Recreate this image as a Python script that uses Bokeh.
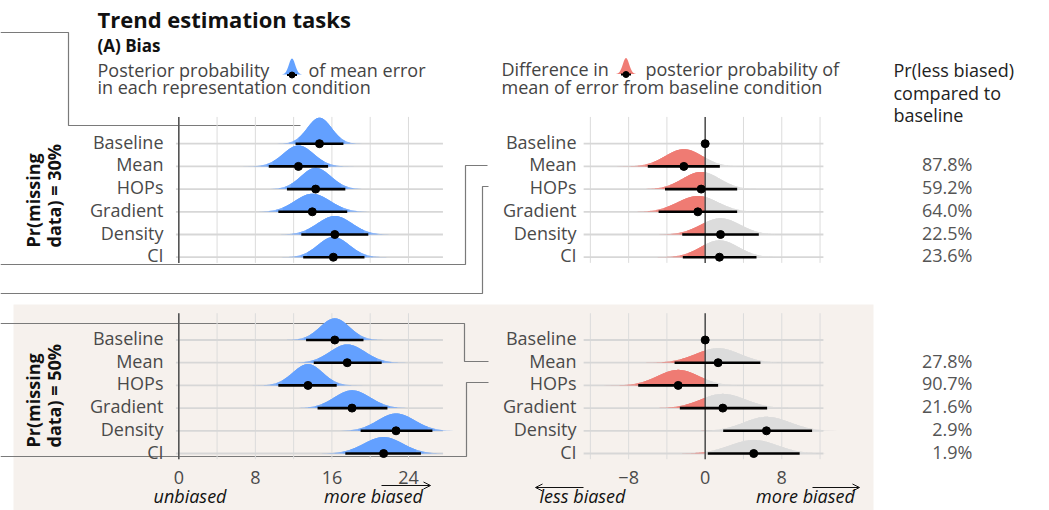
import numpy as np
from bokeh.plotting import figure
from bokeh.models import Range1d, Arrow, OpenHead
from bokeh.core.properties import value
from bokeh.embed import file_html
from bokeh.resources import INLINE

# ---------------- data ----------------
categories = ["Baseline", "Mean", "HOPs", "Gradient", "Density", "CI"]

# posterior of mean error: point estimate and 95% interval (Pr(missing)=30%)
err30_point = [14.7, 12.5, 14.3, 13.95, 16.3, 16.15]
err30_lo = [12.2, 9.4, 11.3, 10.4, 12.8, 13.0]
err30_hi = [17.2, 15.6, 17.4, 17.6, 19.8, 19.4]

# Pr(missing)=50%
err50_point = [16.3, 17.6, 13.5, 18.1, 22.7, 21.4]
err50_lo = [13.3, 14.1, 10.4, 14.5, 19.0, 17.4]
err50_hi = [19.3, 21.2, 16.5, 21.8, 26.5, 25.3]

# difference from baseline
diff30_point = [0.0, -2.23, -0.42, -0.77, 1.6, 1.49]
diff30_lo = [0.0, -6.0, -4.2, -4.87, -2.4, -2.34]
diff30_hi = [0.0, 1.53, 3.34, 3.34, 5.6, 5.36]

diff50_point = [0.0, 1.35, -2.82, 1.84, 6.4, 5.07]
diff50_lo = [0.0, -3.2, -7.0, -2.65, 1.88, 0.27]
diff50_hi = [0.0, 5.77, 1.35, 6.47, 11.17, 9.87]

pr_less30 = ["", "87.8%", "59.2%", "64.0%", "22.5%", "23.6%"]
pr_less50 = ["", "27.8%", "90.7%", "21.6%", "2.9%", "1.9%"]

err_ticks = [0, 8, 16, 24]
err_tick_labels = ["0", "8", "16", "24"]
diff_ticks = [-8, 0, 8]
diff_tick_labels = ["\u22128", "0", "8"]
err_grid = [0, 4, 8, 12, 16, 20, 24]
diff_grid = [-12, -8, -4, 0, 4, 8, 12]

# ---------------- layout ----------------
W, H = 1049, 510
OX, OY = 0, 0
PXU = 9.57      # px per data unit (x)
ROW = 22.7      # px per category row
ERR_ZERO, DIFF_ZERO = 178.3, 704.7
BASE30, BASE50 = 256.7, 453.0
err_lim = (-0.3, 27.6)
diff_lim = (-12.7, 12.35)
row_lim = (-0.25, 6.18)
rows = [5, 4, 3, 2, 1, 0]
K = 83.0 / ROW   # density height scale (rows per pdf unit)

FONT = value("Open Sans")
BLUE, RED, GREY = "#64A2FF", "#F07C75", "#DEDEDE"
TXT = "#4a4a4a"
FS = value("18px")

p = figure(width=W, height=H, output_backend="svg", toolbar_location=None,
           x_range=Range1d(OX, OX + W), y_range=Range1d(OY + H, OY),
           x_axis_location=None, y_axis_location=None, min_border=0)
p.grid.visible = False
p.outline_line_color = None
p.background_fill_color = "white"
p.border_fill_color = "white"

p.extra_x_ranges["err"] = Range1d((OX - ERR_ZERO) / PXU, (OX + W - ERR_ZERO) / PXU)
p.extra_x_ranges["diff"] = Range1d((OX - DIFF_ZERO) / PXU, (OX + W - DIFF_ZERO) / PXU)
p.extra_y_ranges["r30"] = Range1d((BASE30 - (OY + H)) / ROW, (BASE30 - OY) / ROW)
p.extra_y_ranges["r50"] = Range1d((BASE50 - (OY + H)) / ROW, (BASE50 - OY) / ROW)

# background of the 50% row
p.quad(left=13, right=873, top=304, bottom=512, fill_color="#F6F1ED", line_color=None)

# connector brackets
CON = dict(line_color="#7a7a7a", line_width=1.2)
p.line([0, 68, 68, 300], [32, 32, 125, 125], **CON)
p.line([0, 465, 465, 487], [264, 264, 165, 165], **CON)
p.line([0, 482, 482, 488], [293, 293, 186, 186], **CON)
p.line([0, 464, 464, 488], [323, 323, 361, 361], **CON)
p.line([0, 466, 466, 488], [456, 456, 382, 382], **CON)

# fade layers for the slab tails
edges = [1.7, 2.1, 2.5, 2.9, 3.3, 3.7, 4.3]
targets = [0.88, 0.72, 0.55, 0.40, 0.25, 0.11]
layer_alpha = [0.0] * len(targets)
layer_alpha[-1] = targets[-1]
for j in range(len(targets) - 2, -1, -1):
    layer_alpha[j] = 1 - (1 - targets[j]) / (1 - targets[j + 1])
layers = [(edges[0], 1.0)] + [(edges[j + 1], layer_alpha[j]) for j in range(len(targets))]


def slab(m, lo, hi, row, xmin, xmax):
    sl = (m - lo) / 1.96
    sr = (hi - m) / 1.96
    A = 2 / (np.sqrt(2 * np.pi) * (sl + sr))
    out = []
    for zc, a in layers:
        x0 = max(m - zc * sl, xmin)
        x1 = min(m + zc * sr, xmax)
        if x1 <= x0:
            continue
        xs = np.linspace(x0, x1, 70)
        s = np.where(xs < m, sl, sr)
        ys = row + K * A * np.exp(-0.5 * ((xs - m) / s) ** 2)
        out.append((list(np.r_[x0, xs, x1]), list(np.r_[row, ys, row]), a))
    return out


def panel(xr, yr, lim, grid, pts, los, his, split):
    p.segment(x0=grid, y0=[row_lim[0]] * len(grid), x1=grid, y1=[row_lim[1]] * len(grid),
              x_range_name=xr, y_range_name=yr, line_color="#DCDCDC", line_width=1)
    p.segment(x0=[lim[0]] * 6, y0=rows, x1=[lim[1]] * 6, y1=rows,
              x_range_name=xr, y_range_name=yr, line_color="#D7D7D7", line_width=1.8)
    if not split:
        p.segment(x0=[0], y0=[row_lim[0]], x1=[0], y1=[row_lim[1]],
                  x_range_name=xr, y_range_name=yr, line_color="#555555", line_width=1.6)
    xs_all, ys_all, al_all, col_all = [], [], [], []
    for m, lo, hi, r in zip(pts, los, his, rows):
        if hi - lo <= 0:
            continue
        parts = [(-1e9, 0, RED), (0, 1e9, GREY)] if split else [(-1e9, 1e9, BLUE)]
        for a, b, c in parts:
            for xs, ys, al in slab(m, lo, hi, r, a, b):
                xs_all.append(xs); ys_all.append(ys); al_all.append(al); col_all.append(c)
    p.patches(xs=xs_all, ys=ys_all, fill_color=col_all, fill_alpha=al_all, line_color=None,
              x_range_name=xr, y_range_name=yr)
    if split:
        p.segment(x0=[0], y0=[row_lim[0]], x1=[0], y1=[row_lim[1]],
                  x_range_name=xr, y_range_name=yr, line_color="#555555", line_width=1.6)
    p.segment(x0=los, y0=rows, x1=his, y1=rows, x_range_name=xr, y_range_name=yr,
              line_color="black", line_width=2.6)
    p.scatter(x=pts, y=rows, size=8, color="black", x_range_name=xr, y_range_name=yr)


panel("err", "r30", err_lim, err_grid, err30_point, err30_lo, err30_hi, False)
panel("diff", "r30", diff_lim, diff_grid, diff30_point, diff30_lo, diff30_hi, True)
panel("err", "r50", err_lim, err_grid, err50_point, err50_lo, err50_hi, False)
panel("diff", "r50", diff_lim, diff_grid, diff50_point, diff50_lo, diff50_hi, True)

LBL = dict(text_font=FONT, text_font_size=FS, text_color=TXT, text_baseline="middle")

# category labels and percentages
for yr, prs in (("r30", pr_less30), ("r50", pr_less50)):
    p.text(x=[163] * 6, y=rows, text=categories, y_range_name=yr, text_align="right",
           y_offset=-2, **LBL)
    p.text(x=[576] * 6, y=rows, text=categories, y_range_name=yr, text_align="right",
           y_offset=-2, **LBL)
    p.text(x=[972] * 5, y=rows[1:], text=prs[1:], y_range_name=yr, text_align="right",
           text_baseline="middle", y_offset=-2, text_font=FONT, text_font_size=FS,
           text_color="#555555")

# tick labels
p.text(x=err_ticks, y=[476.5] * len(err_ticks), text=err_tick_labels, x_range_name="err",
       text_align="center", **LBL)
p.text(x=diff_ticks, y=[476.5] * len(diff_ticks), text=diff_tick_labels, x_range_name="diff",
       text_align="center", **LBL)

# axis annotations
IT = dict(text_font=FONT, text_font_size=FS, text_font_style="italic",
          text_color="#111111", text_align="center", text_baseline="middle")
p.text(x=[189.5, 373, 582, 805], y=[495] * 4,
       text=["unbiased", "more biased", "less biased", "more biased"], **IT)
for xs, xe, yy in ((381, 430, 485), (583, 535, 487), (812, 859, 487)):
    p.add_layout(Arrow(x_start=xs, y_start=yy, x_end=xe, y_end=yy, line_color="#111111",
                       line_width=1, end=OpenHead(size=7, line_width=1, line_color="#111111")))

# rotated facet labels
RT = dict(text_font=FONT, text_font_size=value("18px"), text_font_style="bold",
          text_color="#111111", angle=np.pi / 2, text_align="left", text_baseline="middle")
p.text(x=[32.5, 53.5], y=[247, 247], text=["Pr(missing", "data) = 30%"], **RT)
p.text(x=[32.5, 53.5], y=[447, 447], text=["Pr(missing", "data) = 50%"], **RT)

# headers
p.text(x=[97], y=[18.5], text=["Trend estimation tasks"], text_font=FONT, text_baseline="middle",
       text_font_size=value("22px"), text_font_style="bold", text_color="#111111")
p.text(x=[97], y=[45], text=["(A) Bias"], text_font=FONT, text_baseline="middle",
       text_font_size=value("17px"), text_font_style="bold", text_color="#111111")
HD = dict(text_font=FONT, text_font_size=FS, text_color="#444444", text_baseline="middle")
p.text(x=[97, 308, 97], y=[69.5, 69.5, 86.5],
       text=["Posterior probability", "of mean error", "in each representation condition"], **HD)
p.text(x=[501, 645, 501], y=[68.5, 68.5, 86.5],
       text=["Difference in", "posterior probability of", "mean of error from baseline condition"], **HD)
p.text(x=[893, 893, 893], y=[69.5, 92.5, 114.5], text=["Pr(less biased)", "compared to", "baseline"],
       text_font=FONT, text_font_size=FS, text_color="#222222", text_baseline="middle")


# legend icons in the headers
def icon(cx, base, color):
    dx = np.linspace(-10, 10, 41)
    ys = base - 16 * np.exp(-0.5 * (dx / 3.2) ** 2)
    p.patch(list(np.r_[cx - 10, cx + dx, cx + 10]), list(np.r_[base, ys, base]),
            fill_color=color, line_color=None)
    p.segment(x0=[cx - 5], y0=[base + 0.5], x1=[cx + 5], y1=[base + 0.5],
              line_color="black", line_width=2)
    p.scatter(x=[cx], y=[base + 0.5], size=6, color="black")


icon(291.5, 74, BLUE)
icon(625.5, 73.5, RED)

open("out.html", "w").write(file_html(p, INLINE))
